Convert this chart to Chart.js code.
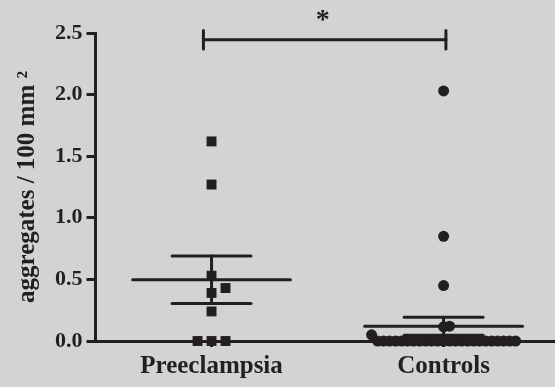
<!DOCTYPE html>
<html>
<head>
<meta charset="utf-8">
<script src="https://cdn.jsdelivr.net/npm/chart.js@4"></script>
<style>
  html, body { margin: 0; padding: 0; background: #d2d3d5; }
  #wrap { width: 555px; height: 387px; }
</style>
</head>
<body>
<div id="wrap"><canvas id="chart" width="555" height="387"></canvas></div>
<script>
// data
const categories = ['Preeclampsia', 'Controls'];
const preeclampsia = [1.62, 1.27, 0.53, 0.43, 0.39, 0.24, 0, 0, 0];
const controls = [2.03, 0.85, 0.45, 0.12, 0.115, 0.05,
  0, 0, 0, 0, 0, 0, 0, 0, 0, 0, 0, 0,
  0, 0, 0, 0, 0, 0, 0, 0, 0, 0, 0, 0];
const yTicks = [0, 0.5, 1.0, 1.5, 2.0, 2.5];
const yTitle = 'aggregates / 100 mm \u00B2';
const sigLabel = '*';

const ink = '#231f20';
const font = '"Liberation Serif", "DejaVu Serif", serif';

// mean and standard error of each group
function stats(vals) {
  const n = vals.length;
  const mean = vals.reduce((a, b) => a + b, 0) / n;
  const sd = Math.sqrt(vals.reduce((a, b) => a + (b - mean) * (b - mean), 0) / (n - 1));
  return { mean: mean, sem: sd / Math.sqrt(n) };
}

function seg(x1, y1, x2, y2) {
  return {
    type: 'line',
    data: [{ x: x1, y: y1 }, { x: x2, y: y2 }],
    borderColor: ink,
    borderWidth: 3,
    borderCapStyle: 'round',
    pointRadius: 0,
    clip: false
  };
}

const groups = [preeclampsia, controls];
let datasets = [
  { type: 'scatter', data: preeclampsia.map(v => ({ x: 1, y: v })), pointStyle: 'rect', pointRadius: 7, backgroundColor: ink, borderWidth: 0, clip: false },
  { type: 'scatter', data: controls.map(v => ({ x: 2, y: v })), pointStyle: 'circle', pointRadius: 5.5, backgroundColor: ink, borderWidth: 0, clip: false }
];

// mean line with SEM bars
groups.forEach((vals, i) => {
  const c = i + 1;
  const s = stats(vals);
  datasets.push(seg(c - 0.34, s.mean, c + 0.34, s.mean));
  datasets.push(seg(c - 0.17, s.mean + s.sem, c + 0.17, s.mean + s.sem));
  datasets.push(seg(c - 0.17, s.mean - s.sem, c + 0.17, s.mean - s.sem));
  datasets.push(seg(c, s.mean - s.sem, c, s.mean + s.sem));
});

// significance bracket
datasets.push(seg(0.965, 2.445, 2.01, 2.445));
datasets.push(seg(0.965, 2.37, 0.965, 2.52));
datasets.push(seg(2.01, 2.37, 2.01, 2.52));

const starPlugin = {
  id: 'star',
  afterDatasetsDraw(chart) {
    const ctx = chart.ctx;
    const x = chart.scales.x.getPixelForValue((0.965 + 2.01) / 2);
    const y = chart.scales.y.getPixelForValue(2.445);
    ctx.save();
    ctx.fillStyle = ink;
    ctx.font = 'bold 28px ' + font;
    ctx.textAlign = 'center';
    ctx.textBaseline = 'alphabetic';
    ctx.fillText(sigLabel, x - 2, y - 12);
    ctx.restore();
  }
};

const chart = new Chart(document.getElementById('chart'), {
  data: { datasets: datasets },
  options: {
    responsive: false,
    animation: false,
    layout: { autoPadding: false, padding: { top: 33, left: 13, right: 0, bottom: 0 } },
    plugins: { legend: { display: false }, tooltip: { enabled: false } },
    scales: {
      x: {
        type: 'linear',
        min: 0.5,
        max: 2.48,
        afterBuildTicks: (axis) => { axis.ticks = [{ value: 1 }, { value: 2 }]; },
        ticks: {
          callback: (v) => categories[v - 1],
          color: ink,
          font: { family: font, size: 25, weight: 'bold', lineHeight: 0.8 },
          padding: 10,
          maxRotation: 0
        },
        grid: { drawOnChartArea: false, drawTicks: true, tickLength: 6, tickColor: ink, tickWidth: 3 },
        border: { color: ink, width: 3 }
      },
      y: {
        min: 0,
        max: 2.5,
        afterBuildTicks: (axis) => { axis.ticks = yTicks.map(v => ({ value: v })); },
        ticks: {
          callback: (v) => v.toFixed(1),
          color: ink,
          font: { family: font, size: 22, weight: 'bold' },
          padding: 4
        },
        grid: { drawOnChartArea: false, drawTicks: true, tickLength: 9, tickColor: ink, tickWidth: 3 },
        border: { color: ink, width: 3 },
        title: {
          display: true,
          text: yTitle,
          color: ink,
          font: { family: font, size: 25, weight: 'bold' },
          padding: { top: 0, bottom: 8 }
        }
      }
    }
  },
  plugins: [starPlugin]
});

// spread tied points sideways, working in pixels
function swarm(vals, center, step, minDy) {
  const xs = chart.scales.x, ys = chart.scales.y;
  const cx = xs.getPixelForValue(center);
  const order = vals.map((v, i) => i).sort((a, b) => vals[a] - vals[b]);
  const placed = [];
  const out = new Array(vals.length);
  order.forEach(i => {
    const py = ys.getPixelForValue(vals[i]);
    for (let k = 0; k < 200; k++) {
      const off = k === 0 ? 0 : (k % 2 ? 1 : -1) * Math.ceil(k / 2) * step;
      const hit = placed.some(p => Math.abs(p.dx - off) < step * 0.99 && Math.abs(p.py - py) < minDy);
      if (!hit) {
        placed.push({ dx: off, py: py });
        out[i] = { x: xs.getValueForPixel(cx + off), y: vals[i] };
        break;
      }
    }
  });
  return out;
}

chart.data.datasets[0].data = swarm(preeclampsia, 1, 14, 11);
chart.data.datasets[1].data = swarm(controls, 2, 6, 10);
chart.update('none');
</script>
</body>
</html>
